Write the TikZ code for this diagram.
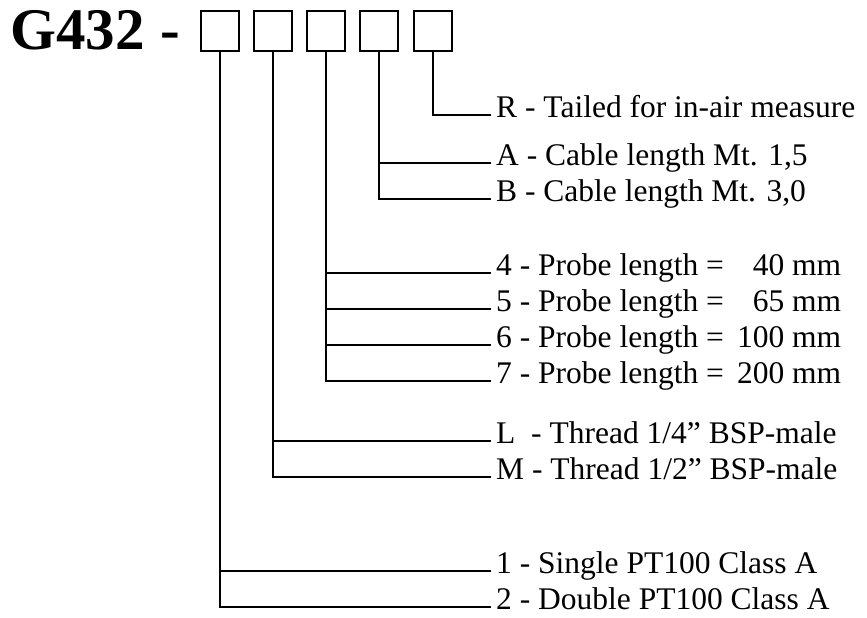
\documentclass[tikz,border=0pt]{standalone}
\usepackage{fontspec}
\setmainfont{Liberation Serif}
\begin{document}
\begin{tikzpicture}[x=1pt,y=-1pt,
  lbl/.style={anchor=mid west,inner xsep=5pt,inner ysep=0pt,font=\fontsize{31.5}{36}\selectfont},
  digitbox/.style={draw,line width=1.8pt,minimum width=38pt,minimum height=40pt,inner sep=0pt},
  conn/.style={line width=1.8pt}]
\useasboundingbox (0,0) rectangle (867,618);
\node[anchor=base west,inner sep=0pt,font=\fontsize{59}{62}\selectfont\bfseries] (title) at (10,50) {G432\hspace{1pt} -};
\node[digitbox] (b1) at (220,31) {};
\node[digitbox] (b2) at (273,31) {};
\node[digitbox] (b3) at (326,31) {};
\node[digitbox] (b4) at (379,31) {};
\node[digitbox] (b5) at (433,31) {};
\node[lbl] (tR) at (491,115) {R - Tailed for in-air measure};
\node[lbl] (tA) at (491,163) {A - Cable length Mt. 1,5};
\node[lbl] (tB) at (491,199) {B - Cable length Mt. 3,0};
\node[lbl] (t4) at (491,273) {4 - Probe length = \phantom{1}\,40 mm};
\node[lbl] (t5) at (491,309) {5 - Probe length = \phantom{1}\,65 mm};
\node[lbl] (t6) at (491,345) {6 - Probe length = \,100 mm};
\node[lbl] (t7) at (491,381) {7 - Probe length = \,200 mm};
\node[lbl] (tL) at (491,441) {L\ \ - Thread 1/4” BSP-male};
\node[lbl] (tM) at (491,477) {M - Thread 1/2” BSP-male};
\node[lbl] (t1) at (491,571) {1 - Single PT100 Class A};
\node[lbl] (t2) at (491,607) {2 - Double PT100 Class A};
\draw[conn] (b5.south) |- (tR.mid west);
\draw[conn] (b4.south) |- (tA.mid west);
\draw[conn] (b4.south) |- (tB.mid west);
\draw[conn] (b3.south) |- (t4.mid west);
\draw[conn] (b3.south) |- (t5.mid west);
\draw[conn] (b3.south) |- (t6.mid west);
\draw[conn] (b3.south) |- (t7.mid west);
\draw[conn] (b2.south) |- (tL.mid west);
\draw[conn] (b2.south) |- (tM.mid west);
\draw[conn] (b1.south) |- (t1.mid west);
\draw[conn] (b1.south) |- (t2.mid west);
\end{tikzpicture}
\end{document}
